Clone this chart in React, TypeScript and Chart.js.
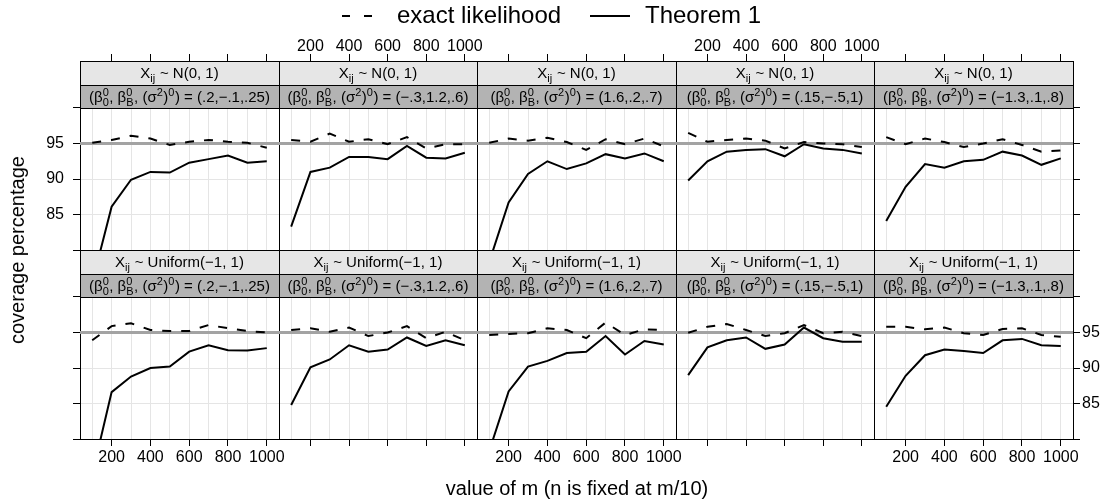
import React, { useEffect, useRef } from 'react';
import { Chart, registerables } from 'chart.js';

Chart.register(...registerables);

// ---------------- data ----------------
const M_VALUES = [100, 200, 300, 400, 500, 600, 700, 800, 900, 1000];
const X_GRID = [100, 200, 300, 400, 500, 600, 700, 800, 900, 1000];
const X_TICK_LABELS = [200, 400, 600, 800, 1000];
const Y_TICKS = [80, 85, 90, 95, 100];
const Y_TICK_LABELS = [85, 90, 95];
const NOMINAL = 95;

const X_DISTS = ['N(0, 1)', 'Uniform(\u22121, 1)'];
const PARAM_VALUES = ['(.2,\u2212.1,.25)', '(\u2212.3,1.2,.6)', '(1.6,.2,.7)', '(.15,\u2212.5,1)', '(\u22121.3,.1,.8)'];

// Row 1: X_ij ~ N(0,1)
const THM_N_1 = [75.4, 86.1, 89.9, 91.0, 90.9, 92.3, 92.8, 93.3, 92.3, 92.5];
const EXACT_N_1 = [95.1, 95.5, 96.1, 95.7, 94.8, 95.25, 95.5, 95.25, 95.1, 94.4];
const THM_N_2 = [83.3, 91.0, 91.6, 93.1, 93.1, 92.8, 94.65, 93.0, 92.9, 93.7];
const EXACT_N_2 = [95.5, 95.25, 96.4, 95.25, 95.6, 94.9, 95.9, 94.3, 94.9, 94.9];
const THM_N_3 = [78.3, 86.7, 90.7, 92.5, 91.4, 92.2, 93.5, 92.9, 93.6, 92.5];
const EXACT_N_3 = [95.1, 95.7, 95.4, 95.8, 95.2, 94.1, 95.6, 94.9, 95.7, 94.6];
const THM_N_4 = [89.8, 92.5, 93.85, 94.1, 94.2, 93.2, 94.9, 94.3, 94.1, 93.6];
const EXACT_N_4 = [96.5, 95.25, 95.5, 95.7, 95.4, 94.3, 95.2, 95.0, 94.9, 94.5];
const THM_N_5 = [84.1, 88.9, 92.1, 91.6, 92.5, 92.7, 93.85, 93.3, 92.0, 92.9];
const EXACT_N_5 = [95.9, 94.9, 95.7, 95.2, 94.5, 95.0, 95.6, 94.8, 93.85, 94.0];

// Row 2: X_ij ~ Uniform(-1,1)
const THM_U_1 = [75.0, 86.6, 88.8, 90.0, 90.2, 92.3, 93.2, 92.5, 92.45, 92.8];
const EXACT_U_1 = [93.9, 95.9, 96.3, 95.35, 95.2, 95.2, 96.05, 95.6, 95.2, 95.0];
const THM_U_2 = [84.8, 90.1, 91.2, 93.2, 92.3, 92.6, 94.3, 93.1, 93.9, 93.2];
const EXACT_U_2 = [95.35, 95.6, 95.1, 95.7, 94.5, 95.0, 95.9, 94.2, 95.1, 93.9];
const THM_U_3 = [78.3, 86.7, 90.2, 91.0, 92.1, 92.3, 94.5, 91.9, 93.8, 93.3];
const EXACT_U_3 = [94.65, 94.8, 94.9, 95.6, 95.35, 94.2, 96.4, 94.65, 95.45, 95.35];
const THM_U_4 = [89.0, 92.9, 93.9, 94.3, 92.7, 93.3, 95.7, 94.2, 93.7, 93.7];
const EXACT_U_4 = [94.97, 95.8, 96.2, 95.35, 94.5, 94.9, 96.05, 94.9, 95.1, 94.5];
const THM_U_5 = [84.55, 88.9, 91.8, 92.6, 92.4, 92.1, 93.9, 94.1, 93.2, 93.1];
const EXACT_U_5 = [95.8, 95.8, 95.45, 95.7, 94.9, 94.65, 95.5, 95.6, 94.65, 94.4];

const THEOREM = [
  [THM_N_1, THM_N_2, THM_N_3, THM_N_4, THM_N_5],
  [THM_U_1, THM_U_2, THM_U_3, THM_U_4, THM_U_5],
];
const EXACT = [
  [EXACT_N_1, EXACT_N_2, EXACT_N_3, EXACT_N_4, EXACT_N_5],
  [EXACT_U_1, EXACT_U_2, EXACT_U_3, EXACT_U_4, EXACT_U_5],
];

// ---------------- layout / style ----------------
const FONT = '"Liberation Sans", Arial, Helvetica, sans-serif';
const COL_X = [80, 279, 477, 676, 874, 1073];
const ROW_Y = [61, 250, 439];
const STRIP1_H = 24;
const STRIP2_H = 23;
const X_MIN = 37;
const X_MAX = 1063;
const Y_MIN = 80;
const Y_TOP_VALUE = 100;
const ML = 60, MR = 60, MT = 40, MB = 40;
const GRID_COLOR = '#e5e5e5';
const REF_COLOR = '#a3a3a3';
const STRIP1_BG = '#e6e6e6';
const STRIP2_BG = '#b3b3b3';
const TICK_LEN = 7;

type Seg = { t?: string; k: 'n' | 'sub' | 'sup' | 'subsup'; sub?: string; sup?: string };

function drawRich(ctx: CanvasRenderingContext2D, segs: Seg[], cx: number, cy: number, size: number) {
  const base = `${size}px ${FONT}`;
  const smallSize = Math.round(size * 0.75);
  const small = `${smallSize}px ${FONT}`;
  const widths = segs.map((s) => {
    if (s.k === 'n') { ctx.font = base; return ctx.measureText(s.t || '').width; }
    ctx.font = small;
    if (s.k === 'sub' || s.k === 'sup') return ctx.measureText(s.t || '').width + 0.5;
    return Math.max(ctx.measureText(s.sub || '').width, ctx.measureText(s.sup || '').width) + 0.5;
  });
  const total = widths.reduce((a, b) => a + b, 0);
  let x = cx - total / 2;
  const baseline = cy + size * 0.36;
  ctx.fillStyle = '#000';
  ctx.textAlign = 'left';
  ctx.textBaseline = 'alphabetic';
  segs.forEach((s, i) => {
    if (s.k === 'n') {
      ctx.font = base; ctx.fillText(s.t || '', x, baseline);
    } else {
      ctx.font = small;
      if (s.k === 'sub') ctx.fillText(s.t || '', x, baseline + size * 0.22);
      if (s.k === 'sup') ctx.fillText(s.t || '', x, baseline - size * 0.42);
      if (s.k === 'subsup') {
        ctx.fillText(s.sub || '', x, baseline + size * 0.22);
        ctx.fillText(s.sup || '', x, baseline - size * 0.42);
      }
    }
    x += widths[i];
  });
}

function stripPlugin(r: number, c: number) {
  return {
    id: 'strips',
    beforeDatasetsDraw(chart: any) {
      const { ctx, chartArea: a } = chart;
      const L = a.left, R = a.right, T = a.top;
      const y1 = T + STRIP1_H;
      const y2 = y1 + STRIP2_H;
      ctx.save();
      ctx.fillStyle = STRIP1_BG;
      ctx.fillRect(L, T, R - L, STRIP1_H);
      ctx.fillStyle = STRIP2_BG;
      ctx.fillRect(L, y1, R - L, STRIP2_H);
      ctx.strokeStyle = '#000';
      ctx.lineWidth = 1;
      ctx.beginPath();
      [T, y1, y2].forEach((y) => { ctx.moveTo(L, y + 0.5); ctx.lineTo(R + 1, y + 0.5); });
      ctx.moveTo(L + 0.5, T); ctx.lineTo(L + 0.5, y2 + 1);
      ctx.moveTo(R + 0.5, T); ctx.lineTo(R + 0.5, y2 + 1);
      ctx.stroke();
      const cx = (L + R) / 2;
      drawRich(ctx, [{ t: 'X', k: 'n' }, { t: 'ij', k: 'sub' }, { t: ' ~ ' + X_DISTS[r], k: 'n' }], cx, T + STRIP1_H / 2, 15);
      drawRich(ctx, [
        { t: '(\u03b2', k: 'n' }, { k: 'subsup', sub: '0', sup: '0' },
        { t: ', \u03b2', k: 'n' }, { k: 'subsup', sub: 'B', sup: '0' },
        { t: ', (\u03c3', k: 'n' }, { t: '2', k: 'sup' }, { t: ')', k: 'n' }, { t: '0', k: 'sup' },
        { t: ') = ' + PARAM_VALUES[c], k: 'n' },
      ], cx, y1 + STRIP2_H / 2 + 0.5, 15);
      ctx.restore();
    },
  };
}

function Panel({ r, c }: { r: number; c: number }) {
  const ref = useRef<HTMLCanvasElement>(null);
  const plotW = COL_X[c + 1] - COL_X[c];
  const rowH = ROW_Y[r + 1] - ROW_Y[r];
  const W = plotW + ML + MR;
  const H = rowH + MT + MB;
  useEffect(() => {
    const isTop = r === 0, isBottom = r === 1, isLeft = c === 0, isRight = c === 4;
    const plotH = rowH - STRIP1_H - STRIP2_H;
    const yMax = Y_MIN + (Y_TOP_VALUE - Y_MIN) * rowH / plotH;
    const font = { family: FONT, size: 16 };
    const xTickColor = (ctx: any) => (ctx.tick && X_TICK_LABELS.includes(ctx.tick.value) ? '#000' : 'rgba(0,0,0,0)');
    const xLabel = (v: any) => (X_TICK_LABELS.includes(Number(v)) ? String(v) : '');
    const yLabel = (v: any) => (Y_TICK_LABELS.includes(Number(v)) ? String(v) : '');
    const setXTicks = (s: any) => { s.ticks = X_GRID.map((v) => ({ value: v })); };
    const setYTicks = (s: any) => { s.ticks = Y_TICKS.map((v) => ({ value: v })); };
    const border = { display: true, color: '#000', width: 1 };
    const chart = new Chart(ref.current as HTMLCanvasElement, {
      type: 'line',
      data: {
        datasets: [
          {
            label: 'Theorem 1',
            data: M_VALUES.map((m, i) => ({ x: m, y: THEOREM[r][c][i] })),
            borderColor: '#000', borderWidth: 2, pointRadius: 0, tension: 0, fill: false,
          },
          {
            label: 'exact likelihood',
            data: M_VALUES.map((m, i) => ({ x: m, y: EXACT[r][c][i] })),
            borderColor: '#000', borderWidth: 2, borderDash: [9, 10], pointRadius: 0, tension: 0, fill: false,
          },
          {
            label: 'nominal',
            data: [{ x: X_MIN, y: NOMINAL }, { x: X_MAX, y: NOMINAL }],
            borderColor: REF_COLOR, borderWidth: 3, pointRadius: 0, fill: false,
          },
        ],
      },
      options: {
        animation: false,
        responsive: false,
        devicePixelRatio: 1,
        events: [],
        layout: { padding: 0 },
        plugins: { legend: { display: false }, tooltip: { enabled: false } },
        scales: {
          x: {
            type: 'linear', position: 'bottom', min: X_MIN, max: X_MAX,
            afterBuildTicks: setXTicks,
            afterFit: (s: any) => { s.height = MB; },
            grid: { display: true, drawOnChartArea: true, drawTicks: isBottom, tickLength: TICK_LEN, color: GRID_COLOR, tickColor: xTickColor, lineWidth: 1 },
            border,
            ticks: { display: isBottom && c % 2 === 0, autoSkip: false, maxRotation: 0, minRotation: 0, padding: 2, color: '#000', font, callback: xLabel },
          },
          x2: {
            type: 'linear', position: 'top', min: X_MIN, max: X_MAX,
            afterBuildTicks: setXTicks,
            afterFit: (s: any) => { s.height = MT; },
            grid: { display: true, drawOnChartArea: false, drawTicks: isTop, tickLength: TICK_LEN, tickColor: xTickColor, color: GRID_COLOR },
            border,
            ticks: { display: isTop && c % 2 === 1, autoSkip: false, maxRotation: 0, minRotation: 0, padding: -2, color: '#000', font, callback: xLabel },
          },
          y: {
            type: 'linear', position: 'left', min: Y_MIN, max: yMax,
            afterBuildTicks: setYTicks,
            afterFit: (s: any) => { s.width = ML; },
            grid: { display: true, drawOnChartArea: true, drawTicks: isLeft, tickLength: TICK_LEN, color: GRID_COLOR, tickColor: '#000', lineWidth: 1 },
            border,
            ticks: { display: isLeft && isTop, padding: 9, color: '#000', font, callback: yLabel },
          },
          y2: {
            type: 'linear', position: 'right', min: Y_MIN, max: yMax,
            afterBuildTicks: setYTicks,
            afterFit: (s: any) => { s.width = MR; },
            grid: { display: true, drawOnChartArea: false, drawTicks: isRight, tickLength: TICK_LEN, color: GRID_COLOR, tickColor: '#000' },
            border,
            ticks: { display: isRight && isBottom, padding: 2, color: '#000', font, callback: yLabel },
          },
        },
      } as any,
      plugins: [stripPlugin(r, c)],
    });
    return () => chart.destroy();
  }, [r, c]);
  return (
    <canvas
      ref={ref}
      width={W}
      height={H}
      style={{ position: 'absolute', left: COL_X[c] - ML, top: ROW_Y[r] - MT, width: W, height: H }}
    />
  );
}

function Label({ x, y, size, children, rotate }: { x: number; y: number; size: number; children: any; rotate?: boolean }) {
  return (
    <div
      style={{
        position: 'absolute', left: x, top: y, fontFamily: FONT, fontSize: size, lineHeight: 1, color: '#000',
        whiteSpace: 'nowrap', transform: `translate(-50%, -50%)${rotate ? ' rotate(-90deg)' : ''}`,
      }}
    >
      {children}
    </div>
  );
}

export default function App() {
  const panels: any[] = [];
  for (let r = 0; r < 2; r++) for (let c = 0; c < 5; c++) panels.push(<Panel key={`${r}-${c}`} r={r} c={c} />);
  return (
    <div style={{ position: 'fixed', left: 0, top: 0, width: 1114, height: 503, background: '#fff', overflow: 'hidden' }}>
      {panels}
      {/* legend */}
      <svg style={{ position: 'absolute', left: 340, top: 8, overflow: 'visible' }} width={40} height={16}>
        <line x1={2} y1={8} x2={32} y2={8} stroke="#000" strokeWidth={2} strokeDasharray="8 14" />
      </svg>
      <div style={{ position: 'absolute', left: 397, top: 2, fontFamily: FONT, fontSize: 24, lineHeight: '26px', whiteSpace: 'nowrap' }}>exact likelihood</div>
      <svg style={{ position: 'absolute', left: 590, top: 8, overflow: 'visible' }} width={42} height={16}>
        <line x1={0} y1={8} x2={40} y2={8} stroke="#000" strokeWidth={2} />
      </svg>
      <div style={{ position: 'absolute', left: 645, top: 2, fontFamily: FONT, fontSize: 24, lineHeight: '26px', whiteSpace: 'nowrap' }}>Theorem 1</div>
      {/* axis titles */}
      <Label x={17} y={250} size={20} rotate>coverage percentage</Label>
      <Label x={577} y={488} size={20}>value of m (n is fixed at m/10)</Label>
    </div>
  );
}
